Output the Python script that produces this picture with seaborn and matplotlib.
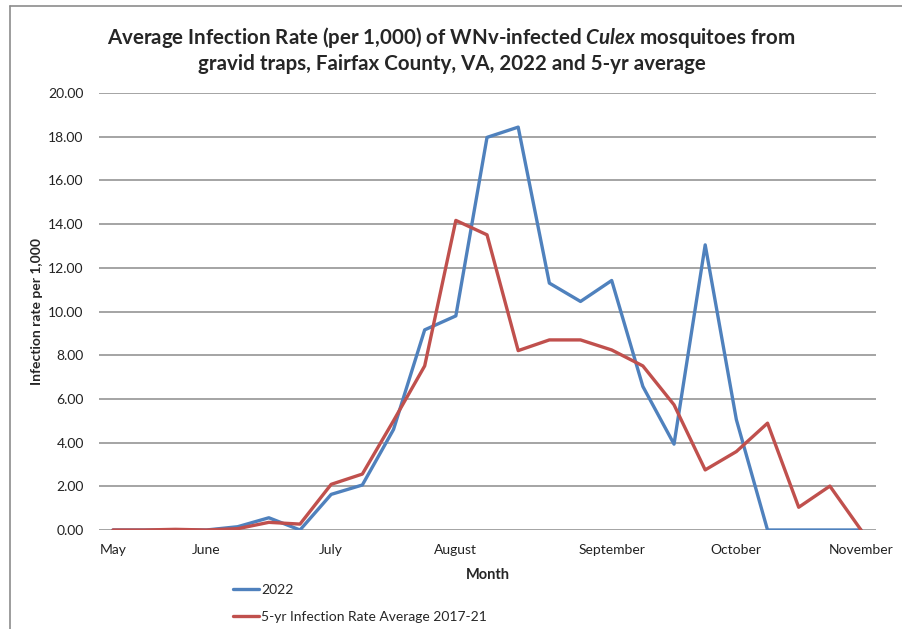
import pandas as pd
import matplotlib.pyplot as plt
import seaborn as sns
from matplotlib.lines import Line2D

# weekly collection points, May through November
weeks = list(range(25))
rate_2022 = [0.0, 0.0, 0.0, 0.0, 0.15, 0.56, 0.0, 1.63, 2.06, 4.6, 9.16, 9.80, 17.97,
             18.44, 11.30, 10.46, 11.42, 6.57, 3.93, 13.05, 5.05, 0.0, 0.0, 0.0, 0.0]
rate_5yr = [0.0, 0.0, 0.03, 0.0, 0.06, 0.35, 0.27, 2.09, 2.56, 5.0, 7.51, 14.17, 13.51,
            8.21, 8.70, 8.70, 8.24, 7.51, 5.73, 2.75, 3.59, 4.89, 1.04, 2.01, 0.0]
month_pos = [0, 3, 7, 11, 16, 20, 24]
month_labels = ["May", "June", "July", "August", "September", "October", "November"]
series_names = ["2022", "5-yr Infection Rate Average 2017-21"]

df = pd.DataFrame({
    "week": weeks * 2,
    "rate": rate_2022 + rate_5yr,
    "series": [series_names[0]] * len(weeks) + [series_names[1]] * len(weeks),
})

sns.set_style("white")
plt.rcParams["font.family"] = ["Lato", "DejaVu Sans"]
plt.rcParams["mathtext.fontset"] = "custom"
plt.rcParams["mathtext.it"] = "Lato:italic:bold"
plt.rcParams["mathtext.rm"] = "Lato:bold"

fig = plt.figure(figsize=(9.03, 6.29), dpi=100)
ax = fig.add_axes([0.1096, 0.1574, 0.8605, 0.6947])

palette = {series_names[0]: "#4F81BD", series_names[1]: "#C0504D"}
sns.lineplot(data=df, x="week", y="rate", hue="series", palette=palette,
             linewidth=2.4, ax=ax, legend=False)

ax.set_xlim(-0.45, 24.48)
ax.set_ylim(0, 20)
ax.set_yticks([i * 2 for i in range(11)])
ax.set_yticklabels([f"{i * 2:.2f}" for i in range(11)])
ax.set_xticks(month_pos)
ax.set_xticklabels(month_labels)
ax.tick_params(axis="both", length=0, labelsize=10, colors="#222222")
ax.tick_params(axis="y", pad=11)
ax.tick_params(axis="x", pad=10)

ax.grid(axis="y", color="#8c8c8c", linewidth=1.1)
ax.set_axisbelow(True)
for s in ax.spines.values():
    s.set_visible(False)

ax.set_xlabel("Month", fontsize=10.5, fontweight="bold", labelpad=9)
ax.set_ylabel("Infection rate per 1,000", fontsize=10, fontweight="bold", labelpad=4)

fig.text(0.5, 0.94, "Average Infection Rate (per 1,000) of WNv-infected $\\mathit{Culex}$ mosquitoes from",
         ha="center", va="center", fontsize=14.8, fontweight="bold")
fig.text(0.5, 0.898, "gravid traps, Fairfax County, VA, 2022 and 5-yr average",
         ha="center", va="center", fontsize=14.8, fontweight="bold")

handles = [Line2D([], [], color=palette[n], linewidth=2.4) for n in series_names]
fig.legend(handles, series_names, loc="upper left", bbox_to_anchor=(0.258, 0.071),
           frameon=False, fontsize=10, handlelength=1.9, handletextpad=0.15,
           labelspacing=1.05, borderpad=0, borderaxespad=0)

# chart area border (top and left edges visible)
fig.add_artist(Line2D([10 / 903, 1.0], [1 - 6 / 629, 1 - 6 / 629], transform=fig.transFigure,
                      color="#8c8c8c", linewidth=1.2))
fig.add_artist(Line2D([10 / 903, 10 / 903], [0, 1 - 6 / 629], transform=fig.transFigure,
                      color="#8c8c8c", linewidth=1.2))

fig.savefig("out.png", dpi=100)
